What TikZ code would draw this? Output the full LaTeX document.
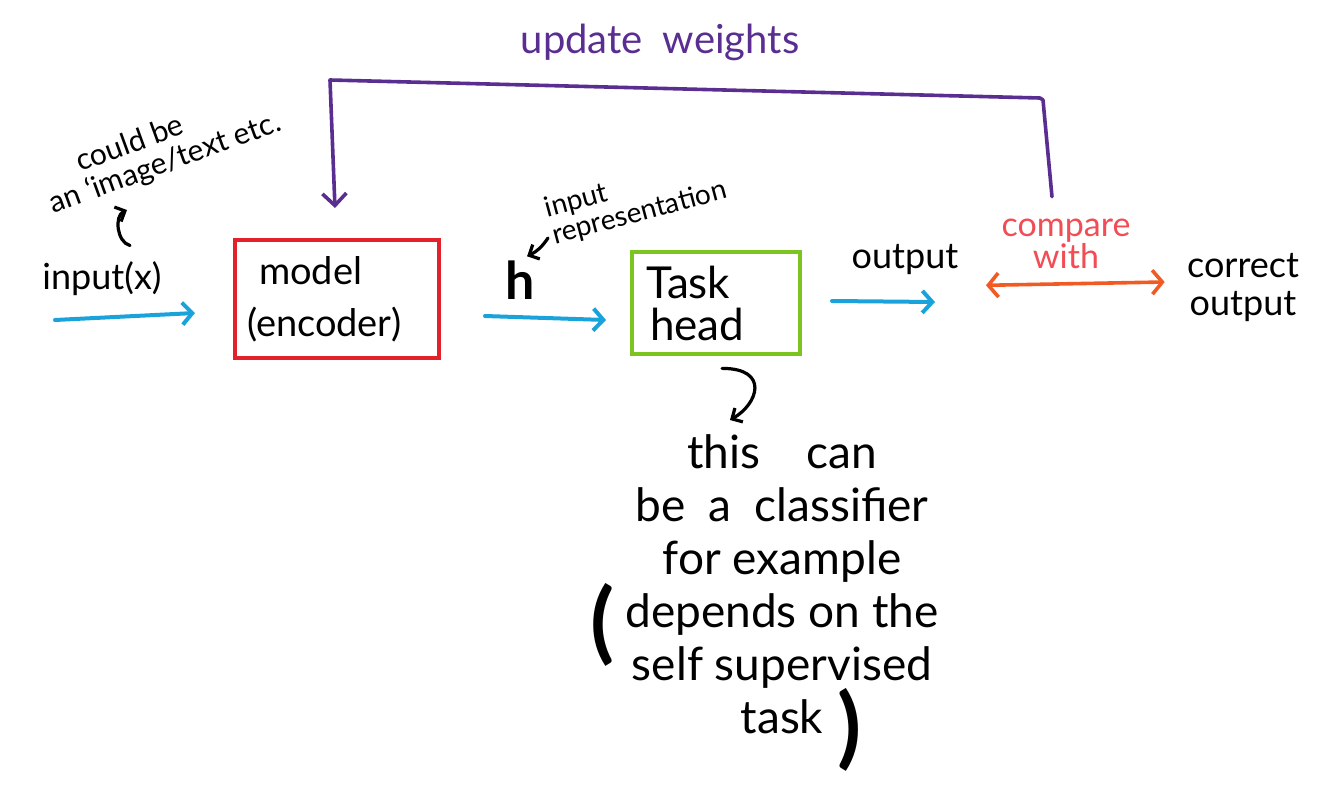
\documentclass[tikz,border=0pt]{standalone}
\usepackage{fontspec}
\setmainfont{Lato}
\usetikzlibrary{arrows.meta,positioning}
\definecolor{handblue}{HTML}{1AA3DB}
\definecolor{handred}{HTML}{E3212B}
\definecolor{handgreen}{HTML}{7CC520}
\definecolor{handpurple}{HTML}{5A2D91}
\definecolor{handorange}{HTML}{F15A22}
\definecolor{handpink}{HTML}{F24D55}
\tikzset{hand/.style={text=black,inner sep=1pt,font=\fontsize{18}{22}\selectfont},
 small/.style={hand,align=left,font=\fontsize{15}{15}\selectfont},
 box/.style={rectangle,line width=2pt,inner sep=6pt,align=left,text=black},
 encoder/.style={box,draw=handred,minimum width=102pt,minimum height=59pt,
 text width=90pt,font=\fontsize{19}{26}\selectfont},
 taskhead/.style={box,draw=handgreen,minimum width=84pt,minimum height=48pt,
 text width=70pt,inner sep=7pt,font=\fontsize{22}{21}\selectfont},
 flow/.style={draw=handblue,line width=2pt,line cap=round,
 -{Straight Barb[length=5pt,width=11pt]}},
 feedback/.style={draw=handpurple,line width=1.8pt,line cap=round,line join=round,
 -{Straight Barb[length=6pt,width=12pt]}},
 compare/.style={draw=handorange,line width=1.8pt,line cap=round,
 {Straight Barb[length=5pt,width=12pt]}-{Straight Barb[length=5pt,width=12pt]}},
 pointer/.style={draw=black,line width=1.6pt,line cap=round,
 -{Straight Barb[length=4pt,width=8pt]}},
 paren/.style={text=black,inner sep=0pt,font=\fontsize{44}{44}\selectfont\bfseries}}
\begin{document}
\begin{tikzpicture}[x=.5pt,y=-.5pt]
 \useasboundingbox (0,0) rectangle (1330,787);
 % main chain
 \node[encoder] (model) at (337,299) {\hspace*{6pt}model\\(encoder)};
 \node[taskhead] (head) at (716,303) {Task\\\hspace*{2pt}head};
 \coordinate (src) at (55,320);
 \coordinate (outend) at (935,302);
 \node[hand] (inlbl) at (102,279) {input(x)};
 \node[hand,font=\fontsize{26}{26}\selectfont\bfseries] (hlbl) at (520,280) {h};
 \node[hand] (outlbl) at (905,260) {output};
 \node[hand,align=center,text=handpink,font=\fontsize{17}{16}\selectfont] (cmp) at (1066,244) {compare\\with};
 \node[hand,align=center,font=\fontsize{18}{19}\selectfont] (correct) at (1243,288) {correct\\output};
 \draw[flow] (src) -- ([xshift=-19pt,yshift=-7pt]model.west);
 \draw[flow] ([xshift=22pt,yshift=-8.5pt]model.east) -- ([xshift=-12pt,yshift=-8.5pt]head.west);
 \draw[flow] ([xshift=15pt,yshift=1pt]head.east) -- (outend);
 \draw[compare] ([xshift=-40pt,yshift=-7pt]cmp.south) -- ([xshift=-10pt,yshift=3pt]correct.west);
 % notes
 \node[small,rotate=20] (imgnote) at (160,150) {\hspace*{20pt}could be\\an `image/text etc.};
 \coordinate (imgtip) at (127,210);
 \draw[pointer] ([xshift=14pt,yshift=7pt]inlbl.north) to[bend left=70] (imgtip);
 \node[small,font=\fontsize{14}{14}\selectfont,rotate=15] (reprlbl) at (636,200) {input\\representation};
 \coordinate (reptail) at (548,238);
 \draw[pointer] (reptail) to[bend left=15] ([xshift=-5pt,yshift=1pt]hlbl.north east);
 \node[hand,align=center,font=\fontsize{23}{26.5}\selectfont] (cls) at (782,584)
  {this\quad can\\be\enspace a\enspace classifier\\for example\\depends on the\\self supervised\\task};
 \node[paren] (lparen) at (603,625) {(};
 \node[paren] (rparen) at (850,730) {)};
 \coordinate (clstip) at (730,420);
 \draw[pointer] ([xshift=3pt,yshift=-6pt]head.south) .. controls +(24pt,0pt) and +(14pt,8pt) .. (clstip);
 % update loop
 \node[hand,text=handpurple,font=\fontsize{20}{20}\selectfont] (updlbl) at (660,42) {update\enspace weights};
 \draw[feedback] ([xshift=-7pt,yshift=10pt]cmp.north) -- (1043,100) -- (1040,98) -- (330,80)
  -- ([xshift=-1pt,yshift=15pt]model.north);
\end{tikzpicture}
\end{document}
